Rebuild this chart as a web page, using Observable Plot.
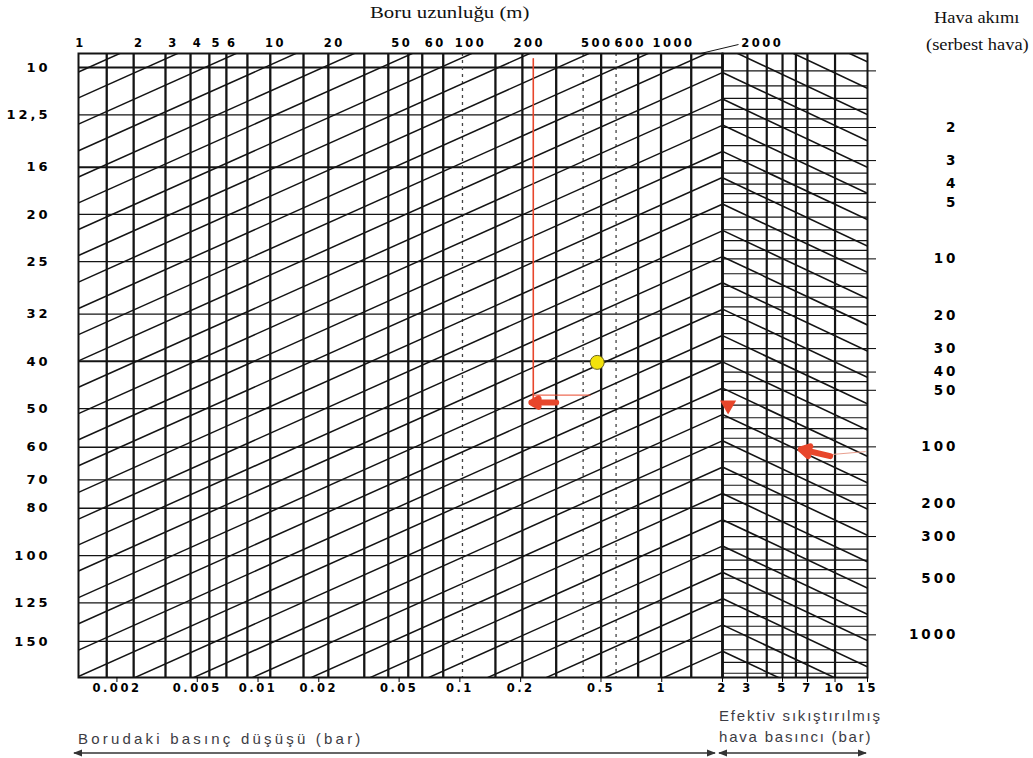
<!DOCTYPE html>
<html><head><meta charset="utf-8">
<script src="https://cdn.jsdelivr.net/npm/d3@7"></script>
<script src="https://cdn.jsdelivr.net/npm/@observablehq/plot@0.6"></script>
<style>
body{margin:0;background:#fff;}
#wrap{position:relative;width:1033px;height:758px;overflow:hidden;background:#fff;}
#wrap > svg{position:absolute;left:0;top:0;}
.lbl{position:absolute;white-space:nowrap;line-height:1;transform-origin:0 0;}
.serif{font-family:"Liberation Serif","DejaVu Serif",serif;color:#111;font-size:16px;transform:scaleX(1.3);}
.serif.r{transform:scaleX(1.15);}
.cap{font-family:"Liberation Sans",Arial,sans-serif;color:#3c3c44;font-size:15px;letter-spacing:1.8px;}
g[aria-label="y-axis tick label"]{letter-spacing:3px;}
g[aria-label="text"]{letter-spacing:2.5px;}
</style></head><body>
<div id="wrap">
  <div class="lbl serif" style="left:370px;top:5px;">Boru uzunluğu (m)</div>
  <div class="lbl serif r" style="left:934px;top:10px;">Hava akımı</div>
  <div class="lbl serif r" style="left:926px;top:37px;">(serbest hava)</div>
  <div class="lbl cap" style="left:78px;top:731px;letter-spacing:3.2px;">Borudaki basınç düşüşü (bar)</div>
  <div class="lbl cap" style="left:719px;top:708px;">Efektiv sıkıştırılmış</div>
  <div class="lbl cap" style="left:719px;top:729px;">hava basıncı (bar)</div>
</div>
<script>
// ---------- data ----------
const diameterTicks = [10, 12.5, 16, 20, 25, 32, 40, 50, 60, 70, 80, 100, 125, 150];
const dropTicks = [0.002, 0.005, 0.01, 0.02, 0.05, 0.1, 0.2, 0.5, 1, 2];
const lengthTicks = [1, 2, 3, 4, 5, 6, 10, 20, 100, 200];
const lengthTicksShiftedLeft = [50, 500];
const lengthTicksShiftedRight = [60, 600, 1000];
const lengthTickFar = [2000];
const pressureTicks = [3, 5, 7, 10, 15];          // gauge bar
const flowTicks = [1, 2, 3, 4, 5, 10, 20, 30, 40, 50, 100, 200, 300, 500, 1000];
const dropGridSolid = [0.00178, 0.00242, 0.00348, 0.00463, 0.00574, 0.00697, 0.00886, 0.0115, 0.0168, 0.0223, 0.0336, 0.0442, 0.0555, 0.0651, 0.0827, 0.150, 0.204, 0.300, 0.501, 0.764, 0.992, 1.40];
const dropGridDashed = [0.103, 0.408, 0.594];
const pressureGrid = [3, 4, 5, 6, 7, 10];           // gauge bar
const flowGrid = [1, 1.2, 1.4, 1.6, 1.8, 2, 2.5, 3, 3.5, 4, 4.5, 5, 6, 7, 8, 9, 10, 12, 14, 16, 18, 20, 25, 30, 35, 40, 45, 50, 60, 70, 80, 90, 100, 120, 140, 160, 180, 200, 250, 300, 350, 400, 450, 500, 600, 700, 800, 900, 1000, 1200, 1400, 1600];
// diameters / flows where each slanted line meets the 2-bar boundary (chevrons)
const boundaryDiameters = [2.31, 2.62, 2.96, 3.35, 3.80, 4.30, 4.86, 5.51, 6.23, 7.06, 8.0, 9.05, 10.24, 11.6, 13.13, 14.86, 16.8, 19.05, 21.6, 24.4, 27.6, 31.3, 35.4, 40.1, 45.4, 51.4, 58.2, 65.9, 74.6, 84.5, 95.6, 108.3, 122.6, 138.8, 157.1];
const boundaryFlows = [0.388, 0.536, 0.740, 1.02, 1.41, 1.94, 2.68, 3.70, 5.11, 7.05, 9.73, 13.4, 18.5, 25.6, 35.3, 48.7, 67.2, 92.8, 128, 177, 244, 337, 465, 641, 885, 1221];
const diameterExponent = 5.4;   // Δp ∝ d^-n along slanted lines
const pressureExponent = 0.5;   // q ∝ p^a along right-hand lines
// leader from the frame to the "2000" label (pipe length, m)
const leader2000 = [{from: 1513, to: 2368}];
// example reading (red guide, yellow point)
const guideVertical = [{drop: 0.231, diameter: 9.6}, {drop: 0.231, diameter: 48.4}];
const guideHorizontal = [{drop: 0.231, diameter: 46.9}, {drop: 0.442, diameter: 46.9}];
const guideArrowLeft = [{drop1: 0.30, drop2: 0.226, diameter: 48.6}];
const yellowPoint = [{drop: 0.479, diameter: 40.2}];
const guideTriangle = [{pressure: 2.2, flow: 60}];
const guideArrowRight = [{p1: 9.4, q1: 112, p2: 6.4, q2: 103}];
const guideFaint = [{pressure: 9.4, flow: 110}, {pressure: 14.6, flow: 106}];

// ---------- layout ----------
const W = 1033, H = 758;
const atm = 1;               // gauge -> absolute pressure
const dpDomain = [0.00129, 2];
const red = "#e8462b";
const ink = "#141414";
const numFont = {fontFamily: "DejaVu Sans, sans-serif", fontWeight: "bold"};
const common = {width: W, height: H, marginTop: 53, marginBottom: H - 677, style: {background: "transparent", overflow: "visible"}};

const leftPanel = Plot.plot({
  ...common,
  marginLeft: 78, marginRight: W - 722,
  x: {type: "log", domain: dpDomain},
  y: {type: "log", domain: [9.36, 177.8], reverse: true},
  marks: [
    Plot.ruleY(diameterTicks, {stroke: ink, strokeWidth: d => (d === 16 || d === 40 || d === 10) ? 2 : 1.3}),
    Plot.ruleX(dropGridSolid, {stroke: ink, strokeWidth: 2.3}),
    Plot.ruleX(dropGridDashed, {stroke: "#444", strokeWidth: 1.3, strokeDasharray: "3,4"}),
    Plot.link(boundaryDiameters, {
      x1: () => dpDomain[0], y1: d => d * Math.pow(2 / dpDomain[0], 1 / diameterExponent),
      x2: () => 2, y2: d => d, stroke: ink, strokeWidth: 1.5, clip: true
    }),
    Plot.frame({stroke: ink, strokeWidth: 2}),
    Plot.line(guideVertical, {x: "drop", y: "diameter", stroke: red, strokeWidth: 1.6}),
    Plot.line(guideHorizontal, {x: "drop", y: "diameter", stroke: red, strokeWidth: 1.2, strokeOpacity: 0.8}),
    Plot.arrow(guideArrowLeft, {x1: "drop1", x2: "drop2", y1: "diameter", y2: "diameter", stroke: red, strokeWidth: 6, headLength: 6}),
    Plot.dot(yellowPoint, {x: "drop", y: "diameter", r: 7, fill: "#f3e20c", stroke: "#6a6320", strokeWidth: 1}),
    Plot.axisY(diameterTicks, {anchor: "left", tickSize: 0, tickPadding: 28, label: null, tickFormat: d => String(d).replace(".", ","), fontSize: 13, ...numFont}),
    Plot.axisX(dropTicks, {anchor: "bottom", tickSize: 5, label: null, tickFormat: null, text: null}),
    Plot.text(dropTicks, {x: d => d, text: d => String(d), frameAnchor: "bottom", dy: 14, fontSize: 11.5, ...numFont})
  ]
});

const rightPanel = Plot.plot({
  ...common,
  marginLeft: 722, marginRight: W - 867,
  x: {type: "log", domain: [2 + atm, 15 + atm]},
  y: {type: "log", domain: [0.808, 1686], reverse: true},
  marks: [
    Plot.ruleY(flowGrid, {stroke: ink, strokeWidth: 1.2}),
    Plot.ruleX(pressureGrid, {x: d => d + atm, stroke: ink, strokeWidth: 2.2}),
    Plot.link(boundaryFlows, {
      x1: () => 2 + atm, y1: d => d,
      x2: () => 15 + atm, y2: d => d * Math.pow((15 + atm) / (2 + atm), pressureExponent),
      stroke: ink, strokeWidth: 1.6, clip: true
    }),
    Plot.frame({stroke: ink, strokeWidth: 2}),
    Plot.ruleX([2 + atm], {stroke: ink, strokeWidth: 2.6}),
    Plot.line(guideFaint, {x: d => d.pressure + atm, y: "flow", stroke: "#e9a08f", strokeWidth: 1}),
    Plot.dot(guideTriangle, {x: d => d.pressure + atm, y: "flow", symbol: "triangle", rotate: 180, r: 6, fill: red}),
    Plot.arrow(guideArrowRight, {x1: d => d.p1 + atm, y1: "q1", x2: d => d.p2 + atm, y2: "q2", stroke: red, strokeWidth: 6, headLength: 6}),
    Plot.axisY(flowTicks, {anchor: "right", tickSize: 8, tickPadding: 83, textAnchor: "end", label: null, tickFormat: d => d === 1 ? "" : String(d), fontSize: 13.5, ...numFont}),
    Plot.axisX(pressureTicks.map(p => p + atm), {anchor: "bottom", tickSize: 5, label: null, tickFormat: null, text: null}),
    Plot.text(pressureTicks, {x: p => p + atm, text: p => String(p), frameAnchor: "bottom", dy: 14, fontSize: 11.5, ...numFont})
  ]
});

const lengthText = {text: d => String(d), frameAnchor: "top", dy: -15, fontSize: 11.5, ...numFont};
const lengthAxis = Plot.plot({
  ...common,
  marginLeft: 78, marginRight: W - 722,
  x: {type: "log", domain: [0.977, 1960], axis: null},
  y: {domain: [0, 1], axis: null},
  marks: [
    Plot.text(lengthTicks, {x: d => d, ...lengthText}),
    Plot.text(lengthTicksShiftedLeft, {x: d => d, ...lengthText, dx: -10}),
    Plot.text(lengthTicksShiftedRight, {x: d => d, ...lengthText, dx: 8}),
    Plot.text(lengthTickFar, {x: d => d, ...lengthText, dx: 38}),
    Plot.link(leader2000, {x1: "from", x2: "to", y1: () => 1, y2: () => 1.0144, stroke: ink, strokeWidth: 1})
  ]
});

const wrap = document.getElementById("wrap");
wrap.appendChild(leftPanel);
wrap.appendChild(rightPanel);
wrap.appendChild(lengthAxis);

// caption arrows
const ns = "http://www.w3.org/2000/svg";
const cap = document.createElementNS(ns, "svg");
cap.setAttribute("width", W); cap.setAttribute("height", H);
cap.innerHTML = `<defs><marker id="ah" viewBox="0 0 10 10" refX="9" refY="5" markerWidth="7" markerHeight="7" orient="auto-start-reverse"><path d="M0,1 L10,5 L0,9 z" fill="#333"/></marker></defs>
<line x1="74" y1="753" x2="715" y2="753" stroke="#333" stroke-width="1.3" marker-start="url(#ah)" marker-end="url(#ah)"/>
<line x1="719" y1="753" x2="866" y2="753" stroke="#333" stroke-width="1.3" marker-start="url(#ah)" marker-end="url(#ah)"/>`;
wrap.appendChild(cap);
</script>
</body></html>
